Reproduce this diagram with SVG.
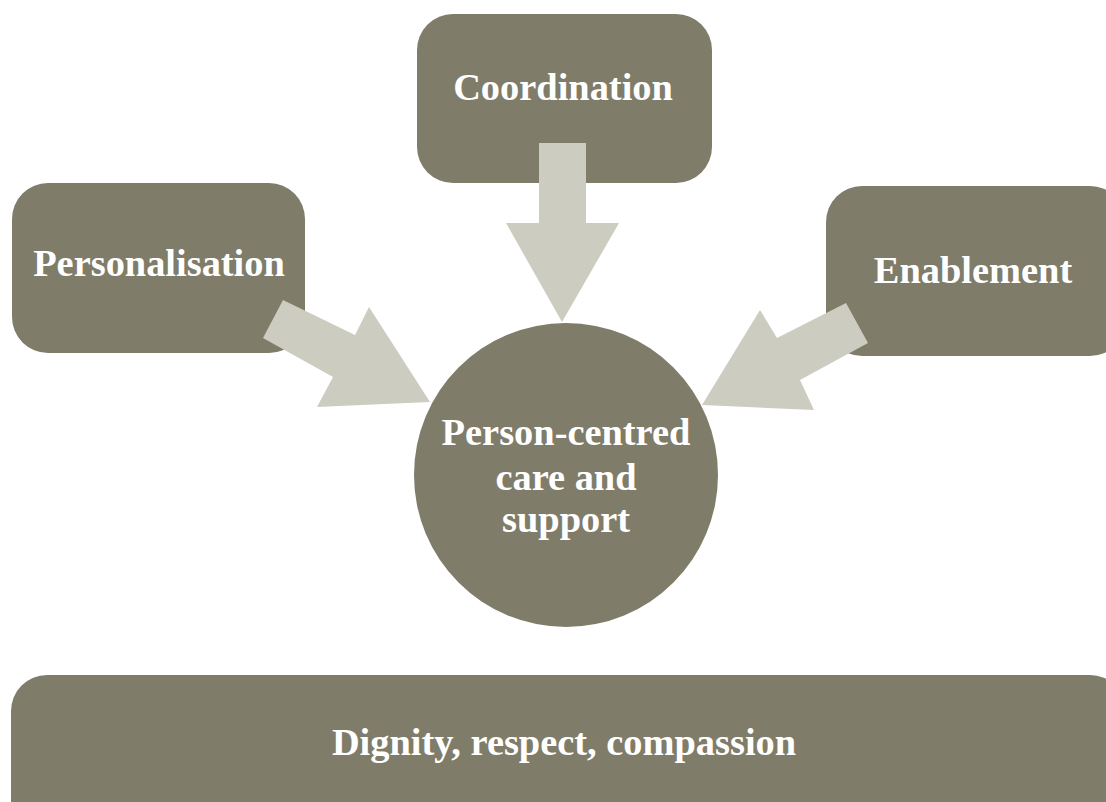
<svg xmlns="http://www.w3.org/2000/svg" width="1106" height="802" viewBox="0 0 1106 802">
<style>
.box{fill:#7f7c69}
.arr{fill:#cccdc0}
.t{font-family:"Liberation Serif","Times New Roman",serif;font-weight:bold;font-size:38.4px;fill:#ffffff;text-anchor:middle}
</style>
<rect width="1106" height="802" fill="#ffffff"/>
<g id="coordination"><rect class="box" x="417" y="14" width="295" height="169" rx="36"/><text class="t" x="563" y="100">Coordination</text></g>
<g id="personalisation"><rect class="box" x="12" y="183" width="293" height="170" rx="36"/><text class="t" x="159" y="276">Personalisation</text></g>
<g id="enablement"><rect class="box" x="826" y="186" width="300" height="170" rx="36"/><text class="t" x="973" y="283">Enablement</text></g>
<g id="center"><circle class="box" cx="566" cy="475" r="152"/><text class="t" x="566" y="445">Person-centred</text><text class="t" x="566" y="490">care and</text><text class="t" x="566" y="532">support</text></g>
<g id="dignity"><rect class="box" x="11" y="675" width="1115" height="160" rx="36"/><text class="t" x="564" y="755">Dignity, respect, compassion</text></g>
<g id="connectors">
<polygon class="arr" points="539,143 586,143 586,223 619,223 562,322 506,223 539,223"/>
<polygon class="arr" points="283,300 355,335 369,307 430,402 317,407 333,377 263,338"/>
<polygon class="arr" points="846,303 868,343 800,380 814,410 702,405 760,310 777,338"/>
</g>
</svg>
